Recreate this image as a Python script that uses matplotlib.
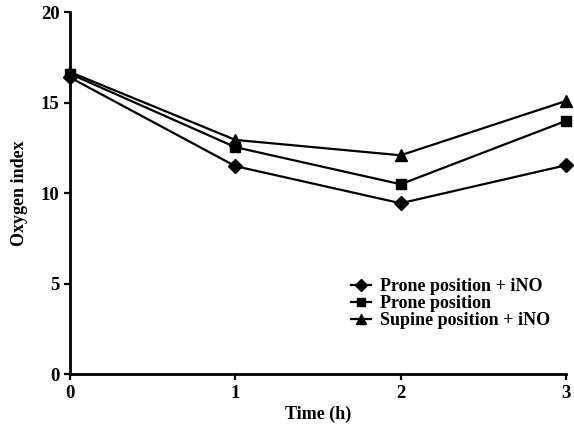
import matplotlib
matplotlib.use("Agg")
import matplotlib.pyplot as plt

plt.rcParams["font.family"] = ["Liberation Serif", "DejaVu Serif"]

# time points (h)
TIME = [0, 1, 2, 3]

PRONE_INO = [16.4, 11.5, 9.45, 11.55]
PRONE = [16.6, 12.55, 10.5, 14.0]
SUPINE_INO = [16.7, 12.95, 12.1, 15.1]

SERIES = [
    ("Prone position + iNO", PRONE_INO, "D", 7),
    ("Prone position", PRONE, "s", 7.5),
    ("Supine position + iNO", SUPINE_INO, "^", 8.5),
]

X_TICKS = [0, 1, 2, 3]
Y_TICKS = [0, 5, 10, 15, 20]

fig = plt.figure(figsize=(5.74, 4.33), dpi=100)
ax = fig.add_axes([70 / 574, 58.7 / 433, 496 / 574, 362 / 433])

for label, values, marker, ms in SERIES:
    ax.plot(TIME, values, color="black", marker=marker, markersize=ms,
            linewidth=1.6, label=label, clip_on=False, zorder=3)

ax.set_xlim(0, 3)
ax.set_ylim(0, 20)
ax.set_xticks(X_TICKS)
ax.set_yticks(Y_TICKS)

for side in ("top", "right"):
    ax.spines[side].set_visible(False)
for side in ("left", "bottom"):
    ax.spines[side].set_linewidth(2)

ax.tick_params(axis="both", direction="out", width=1.6, length=4.5,
               labelsize=13.5, pad=3)
for lbl in ax.get_xticklabels() + ax.get_yticklabels():
    lbl.set_fontweight("bold")

ax.set_xlabel("Time (h)", fontsize=13, fontweight="bold", labelpad=3)
ax.set_ylabel("Oxygen index", fontsize=13, fontweight="bold", labelpad=9)

leg = ax.legend(loc="upper left", bbox_to_anchor=(351 / 574, 1 - 278 / 433),
                bbox_transform=fig.transFigure, frameon=False,
                handlelength=1.1, handletextpad=0.5, labelspacing=0.0,
                borderaxespad=0, borderpad=0, markerscale=0.85,
                prop={"size": 13, "weight": "bold"})

fig.savefig("out.png", dpi=100)
